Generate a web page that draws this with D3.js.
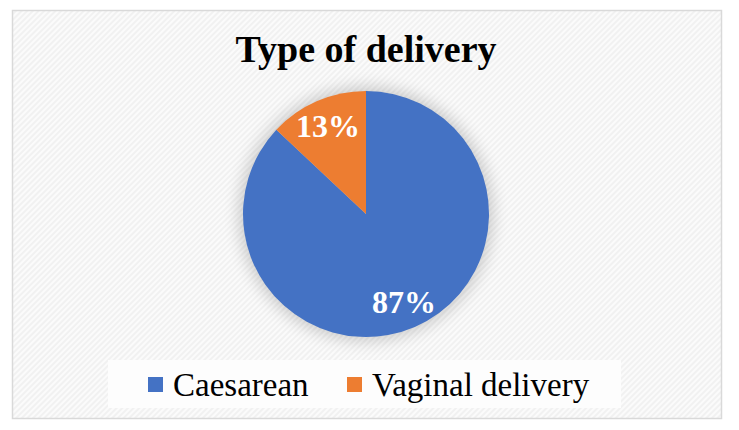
<!DOCTYPE html>
<html>
<head>
<meta charset="utf-8">
<script src="https://cdn.jsdelivr.net/npm/d3@7"></script>
<style>
  body { margin: 0; background: #fff; }
  svg { display: block; }
</style>
</head>
<body>
<div id="chart"></div>
<script>
// data
const categories = ["Caesarean", "Vaginal delivery"];
const values = [87, 13];
const labels = ["87%", "13%"];
const colors = ["#4472c4", "#ed7d31"];

const W = 739, H = 430;
const cx = 366, cy = 214, r = 123;

const svg = d3.select("#chart").append("svg")
  .attr("width", W).attr("height", H);

const defs = svg.append("defs");
const pat = defs.append("pattern")
  .attr("id", "hatch")
  .attr("patternUnits", "userSpaceOnUse")
  .attr("width", 4).attr("height", 4)
  .attr("patternTransform", "rotate(45)");
pat.append("rect").attr("width", 4).attr("height", 4).attr("fill", "#f1f1f1");
pat.append("rect").attr("width", 2).attr("height", 4).attr("fill", "#fbfbfb");

const shadow = defs.append("filter").attr("id", "glow")
  .attr("x", "-30%").attr("y", "-30%").attr("width", "160%").attr("height", "160%");
shadow.append("feGaussianBlur").attr("stdDeviation", 8);

// frame + background
svg.append("rect")
  .attr("x", 12.5).attr("y", 10.5)
  .attr("width", 709).attr("height", 408)
  .attr("fill", "url(#hatch)")
  .attr("stroke", "#d9d9d9").attr("stroke-width", 1.5);

// title
svg.append("text")
  .attr("x", cx).attr("y", 62)
  .attr("text-anchor", "middle")
  .attr("font-family", "Liberation Serif, Times New Roman, serif")
  .attr("font-weight", "bold")
  .attr("font-size", 38)
  .attr("fill", "#000")
  .text("Type of delivery");

// pie
const pie = d3.pie().sort(null).value(d => d);
const arc = d3.arc().innerRadius(0).outerRadius(r);
const arcs = pie(values);

const g = svg.append("g").attr("transform", `translate(${cx},${cy})`);

g.append("circle").attr("r", r + 4).attr("fill", "#000")
  .attr("opacity", 0.18).attr("filter", "url(#glow)");

g.selectAll("path.slice")
  .data(arcs)
  .enter().append("path")
  .attr("class", "slice")
  .attr("d", arc)
  .attr("fill", (d, i) => colors[i]);

// labels
const labelArc = d3.arc().innerRadius(r * 0.78).outerRadius(r * 0.78);
g.selectAll("text.lbl")
  .data(arcs)
  .enter().append("text")
  .attr("class", "lbl")
  .attr("transform", (d, i) => {
    const c = labelArc.centroid(d);
    return `translate(${c[0]},${c[1]})`;
  })
  .attr("text-anchor", "middle")
  .attr("dy", "0.35em")
  .attr("font-family", "Liberation Serif, Times New Roman, serif")
  .attr("font-weight", "bold")
  .attr("font-size", 32)
  .attr("fill", "#fff")
  .text((d, i) => labels[i]);

// legend
svg.append("rect")
  .attr("x", 108).attr("y", 360)
  .attr("width", 513).attr("height", 48)
  .attr("fill", "#fdfdfd");

const legendX = d3.scaleOrdinal().domain(categories).range([148, 347]);
const lg = svg.selectAll("g.leg")
  .data(categories)
  .enter().append("g")
  .attr("class", "leg")
  .attr("transform", d => `translate(${legendX(d)},377)`);
lg.append("rect")
  .attr("width", 15).attr("height", 15)
  .attr("fill", (d, i) => colors[i]);
lg.append("text")
  .attr("x", 25).attr("y", 19)
  .attr("font-family", "Liberation Serif, Times New Roman, serif")
  .attr("font-size", 33)
  .attr("fill", "#000")
  .text(d => d);
</script>
</body>
</html>
